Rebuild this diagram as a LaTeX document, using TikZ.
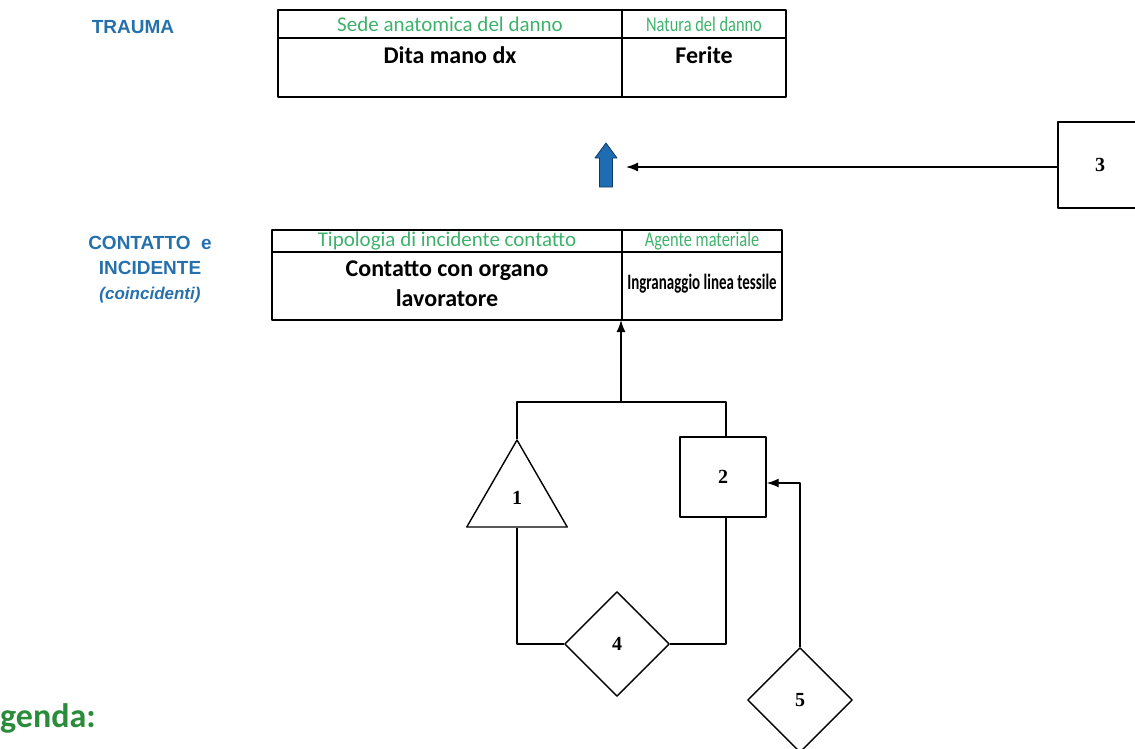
\documentclass[tikz,border=0pt]{standalone}
\usepackage{fontspec}
\setmainfont{Carlito}
\newfontfamily\narrowfont{Carlito}[FakeStretch=0.78]
\newfontfamily\condfont{Carlito}[FakeStretch=0.68]
\newfontfamily\arialfont{Liberation Sans}
\newfontfamily\timesfont{Liberation Serif}
\usetikzlibrary{shapes.geometric,arrows.meta}
\definecolor{titleblue}{RGB}{38,112,172}
\definecolor{headgreen}{RGB}{62,178,108}
\definecolor{legendgreen}{RGB}{42,140,58}
\definecolor{arrowblue}{RGB}{30,108,178}
\begin{document}
\begin{tikzpicture}[x=1pt, y=-1pt, line join=round, >={Latex[length=12pt,width=9pt]},
	title/.style={font=\arialfont\bfseries\fontsize{19}{25}\selectfont, text=titleblue, align=center},
	head/.style={font=\fontsize{21}{24}\selectfont, text=headgreen},
	narrowhead/.style={font=\narrowfont\fontsize{21}{24}\selectfont, text=headgreen},
	body/.style={font=\bfseries\fontsize{24}{30}\selectfont, align=center},
	narrowbody/.style={font=\condfont\bfseries\fontsize{22}{30}\selectfont, align=center},
	tbl/.style={line width=1.4pt},
	link/.style={line width=1.4pt},
	num/.style={draw, line width=1.4pt, inner sep=0pt, font=\timesfont\bfseries\fontsize{20}{20}\selectfont},
	tri/.style={num, regular polygon, regular polygon sides=3, minimum size=116pt},
	rect/.style={num, rectangle, minimum width=86pt, minimum height=80pt},
	dia/.style={num, diamond, minimum width=105pt, minimum height=105pt}]
	\useasboundingbox (0,0) rectangle (1135,748);
	% TRAUMA
	\node[title] (trauma) at (133,27) {TRAUMA};
	\draw[tbl] (278,10) rectangle (786,97);
	\draw[tbl] (278,38)--(786,38);
	\draw[tbl] (622,10)--(622,97);
	\node[head] (sede) at (450,24) {Sede anatomica del danno};
	\node[narrowhead] (natura) at (704,24) {Natura del danno};
	\node[body] (dita) at (450,55) {Dita mano dx};
	\node[body] (ferite) at (704,55) {Ferite};
	% freccia blu e 3
	\path[draw=arrowblue!55!black, fill=arrowblue, line width=0.8pt]
		(599.5,187)--(599.5,158)--(595,158)--(606,143)--(617,158)--(612.5,158)--(612.5,187)--cycle;
	\coordinate (tip3) at (626,167);
	\node[rect, minimum width=84pt, minimum height=86pt] (n3) at (1100,165) {3};
	\draw[link,->] (n3.west |- tip3)--(tip3);
	% CONTATTO e INCIDENTE
	\node[title] (contatto) at (150,270) {CONTATTO\; e\\INCIDENTE\\{\itshape\fontsize{17}{25}\selectfont(coincidenti)}};
	\draw[tbl] (272,230) rectangle (782,320);
	\draw[tbl] (272,252)--(782,252);
	\draw[tbl] (622,230)--(622,320);
	\node[head] (tipologia) at (447,241) {Tipologia di incidente contatto};
	\node[narrowhead] (agente) at (702,241) {Agente materiale};
	\node[body] (organo) at (447,284) {Contatto con organo\\lavoratore};
	\node[narrowbody] (ingranaggio) at (702,284) {Ingranaggio linea tessile};
	\coordinate (midbot) at (621,320);
	% fattori
	\node[tri] (n1) at (517,498) {1};
	\node[rect] (n2) at (723,477) {2};
	\node[dia] (n4) at (617,644) {4};
	\node[dia] (n5) at (800,700) {5};
	\coordinate (j) at (621,402);
	\draw[link] (n1.north)--(n1.north |- j)--([xshift=3pt]n2.north |- j)--([xshift=3pt]n2.north);
	\draw[link,->] (j)--(midbot);
	\draw[link] (n1.south)--(n1.south |- n4.west)--(n4.west);
	\draw[link] (n4.east)--([xshift=3pt]n4.east -| n2.south)--([xshift=3pt]n2.south);
	\draw[link,->] (n5.north)--([yshift=-6pt]n5.north |- n2.east)--([yshift=-6pt]n2.east);
	% legenda
	\node[font=\bfseries\fontsize{34}{36}\selectfont, text=legendgreen, anchor=base west, inner sep=0pt] (leg) at (0,727) {genda:};
\end{tikzpicture}
\end{document}
